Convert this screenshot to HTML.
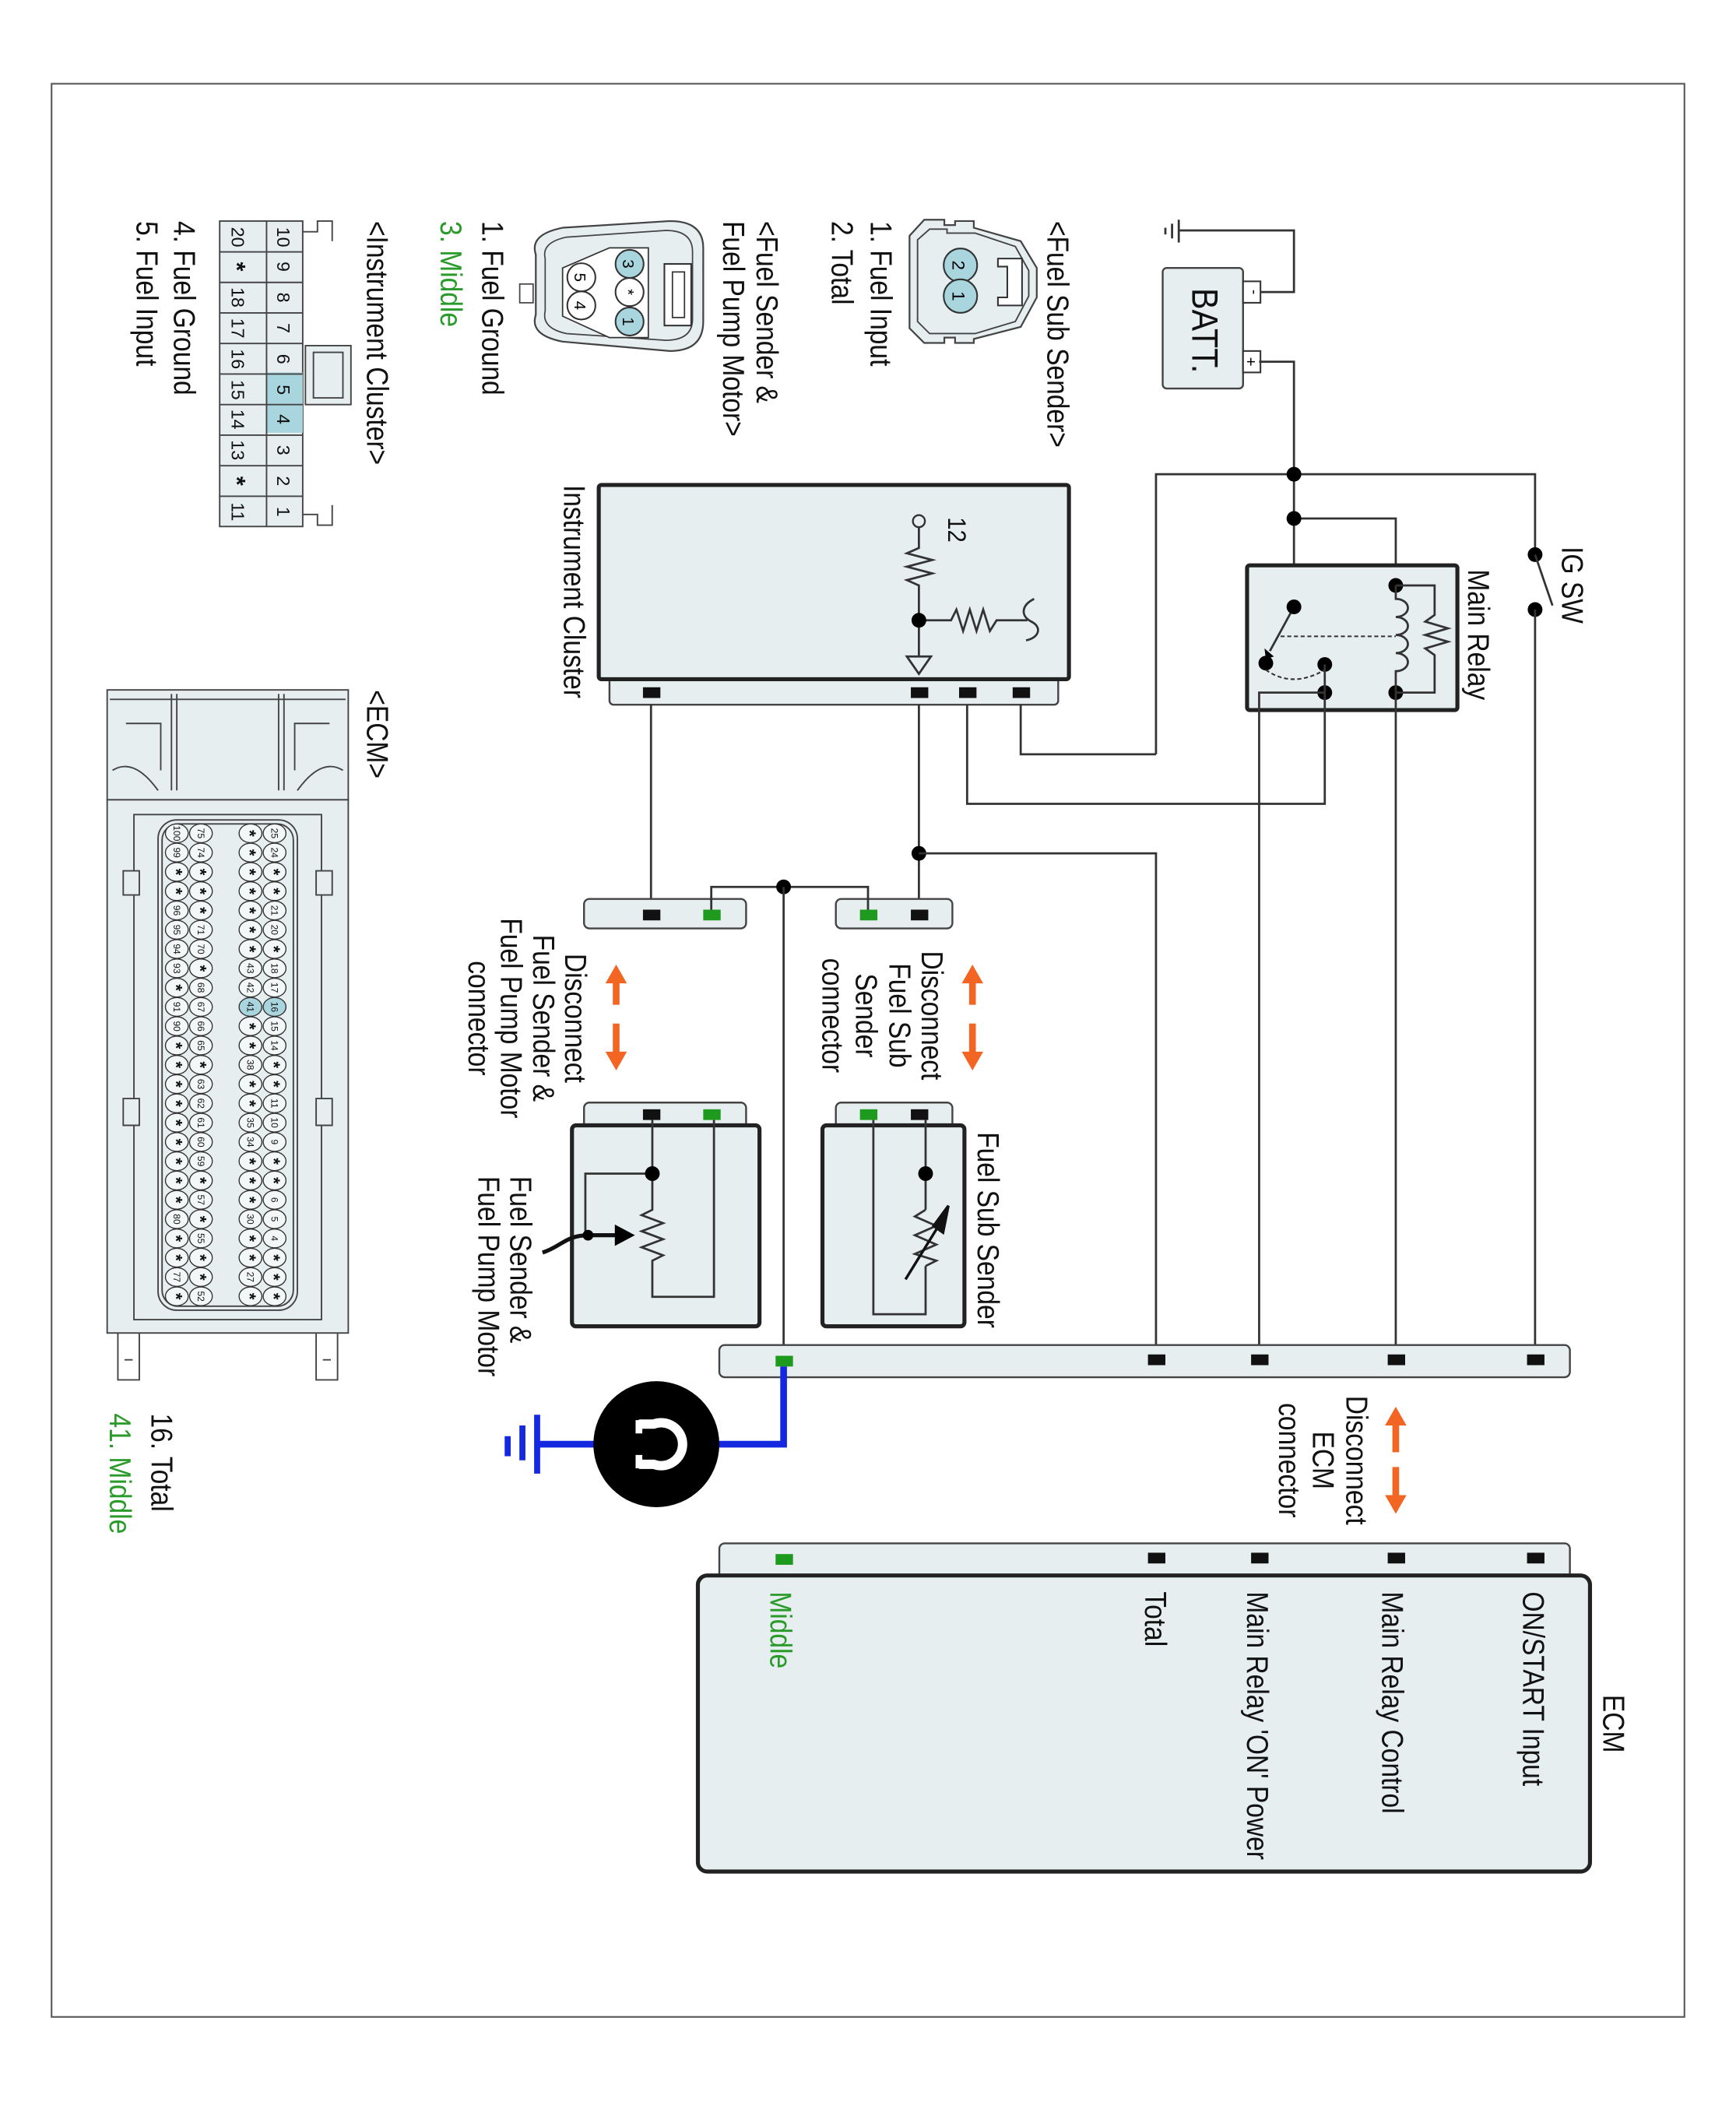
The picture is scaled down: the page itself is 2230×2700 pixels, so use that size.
<!DOCTYPE html>
<html><head><meta charset="utf-8"><style>
html,body{margin:0;padding:0;background:#fff}
svg{display:block}
text{font-family:"Liberation Sans",Arial,sans-serif}
</style></head><body>
<svg width="2230" height="2700" viewBox="0 0 1296 1569" preserveAspectRatio="none" xmlns="http://www.w3.org/2000/svg">
<defs>
<style>
.w{stroke:#333;stroke-width:1.6;fill:none}
.box{fill:#e6eef0;stroke:#222;stroke-width:3}
.bar{fill:#e6eef0;stroke:#444;stroke-width:1.4}
.t{font-size:19.5px;fill:#111}
.g{fill:#2a9a2a}
.pin{fill:#111}
.gp{fill:#1e9a1e}
.or{stroke:#f26522;stroke-width:5;fill:none}
</style>
</defs>
<rect x="38.5" y="62.5" width="1219" height="1443" fill="none" stroke="#555" stroke-width="1.2"/>

<!-- Battery & ground -->
<path class="w" d="M880 172 H966 V218 H940"/>
<path class="w" stroke-width="1.6" d="M880 164 V181 M875 167 V178 M870 170 V175"/>
<rect x="868" y="200" width="60" height="90" rx="3" class="bar" stroke="#333" stroke-width="1.5"/>
<rect x="928" y="210" width="13" height="16" fill="#fff" stroke="#333" stroke-width="1.2"/>
<rect x="928" y="262" width="13" height="16" fill="#fff" stroke="#333" stroke-width="1.2"/>
<text x="0" y="0" transform="translate(933,218) rotate(90)" font-size="11" text-anchor="middle">-</text>
<text x="0" y="0" transform="translate(930,270) rotate(90)" font-size="12" text-anchor="middle">+</text>
<text transform="translate(890,215) rotate(90) scale(1,1.15)" class="t" style="font-size:24px">BATT.</text>
<path class="w" d="M940 270 H966 V453"/>
<path class="w" d="M863 563 V354 H1146 V414"/>
<path class="w" d="M966 387 H1042 V437"/>
<circle cx="966" cy="354" r="5.5"/><circle cx="966" cy="387" r="5.5"/>
<!-- IG SW -->
<circle cx="1146" cy="414" r="5.5"/><circle cx="1146" cy="455" r="5.5"/>
<path class="w" d="M1146 414 L1159 452"/>
<path class="w" d="M1146 455 V1015"/>
<text class="t" transform="translate(1166,408) rotate(90) scale(1,1.15)">IG SW</text>

<!-- Main relay -->
<rect x="931" y="422" width="157" height="108" rx="2" class="box"/>
<path class="w" d="M966 453 L948 486"/>
<path d="M944 484 L951 490 L945 492 Z"/>
<circle cx="966" cy="453" r="5.5"/>
<circle cx="945" cy="495" r="5.5"/><circle cx="989" cy="496" r="5.5"/><circle cx="989" cy="517" r="5.5"/>
<circle cx="1042" cy="437" r="5.5"/><circle cx="1042" cy="517" r="5.5"/>
<path d="M956 475 H1042" stroke="#333" stroke-width="1.2" stroke-dasharray="3,2" fill="none"/>
<path d="M945 500 Q965 514 989 500" stroke="#333" stroke-width="1.2" stroke-dasharray="3,2" fill="none"/>
<path class="w" d="M1042 437 V447 a9 6.7 0 0 1 0 13.5 a9 6.7 0 0 1 0 13.5 a9 6.7 0 0 1 0 13.5 a9 6.7 0 0 1 0 13.5 V517"/>
<path class="w" d="M1042 437 H1071 V459 L1064 464 L1081 469 L1064 474 L1081 479 L1064 484 L1071 489 V517 H1042"/>
<path class="w" d="M989 496 V600 H722 V526"/>
<path class="w" d="M989 517 H940 V1015"/>
<path class="w" d="M1042 517 V1015"/>
<text class="t" transform="translate(1096,425) rotate(90) scale(1,1.15)">Main Relay</text>

<!-- Instrument cluster -->
<rect x="455" y="505" width="335" height="21" rx="3" class="bar"/>
<rect x="447" y="362" width="351" height="145" rx="2" class="box"/>
<rect x="480" y="513" width="13" height="8" class="pin"/>
<rect x="680" y="513" width="13" height="8" class="pin"/>
<rect x="716" y="513" width="13" height="8" class="pin"/>
<rect x="756" y="513" width="13" height="8" class="pin"/>
<path class="w" d="M762 526 V563 H863"/>
<circle cx="686" cy="389" r="4.5" fill="#e6eef0" stroke="#333" stroke-width="1.4"/>
<path class="w" d="M686 394 V409 L677 413 L696 418 L677 423 L696 428 L677 433 L686 437 V490"/>
<path class="w" d="M686 463 H710 L714 455 L719 471 L724 455 L729 471 L734 455 L739 471 L744 463 H767"/>
<path class="w" d="M772 447 C762 452 762 460 770 464 C778 468 776 476 766 478"/>
<path class="w" d="M677 490 H695 L686 503 Z"/>
<circle cx="686" cy="463" r="5.5"/>
<text class="t" transform="translate(708,386) rotate(90) scale(1,1.1)" style="font-size:17px">12</text>
<text class="t" transform="translate(421,362) rotate(90) scale(1,1.15)">Instrument Cluster</text>
<path class="w" d="M486 526 V683"/>
<path class="w" d="M686 526 V683"/>
<circle cx="686" cy="637" r="5.5"/>
<path class="w" d="M686 637 H863 V1015"/>

<!-- upper harness connectors -->
<rect x="624" y="671" width="87" height="22" rx="4" class="bar"/>
<rect x="436" y="671" width="121" height="22" rx="4" class="bar"/>
<rect x="642" y="679" width="13" height="8" class="gp"/>
<rect x="680" y="679" width="13" height="8" class="pin"/>
<rect x="480" y="679" width="13" height="8" class="pin"/>
<rect x="525" y="679" width="13" height="8" class="gp"/>
<path class="w" d="M531 679 V662 H648 V679"/>
<circle cx="585" cy="662" r="5.5"/>
<path class="w" d="M585 662 V1015"/>

<!-- orange arrows -->
<g fill="#f26522">
<path class="or" d="M726 732 V750 M726 764 V787"/>
<path d="M718 734 L726 720 L734 734 Z"/><path d="M718 785 L726 799 L734 785 Z"/>
<path class="or" d="M460 732 V750 M460 764 V787"/>
<path d="M452 734 L460 720 L468 734 Z"/><path d="M452 785 L460 799 L468 785 Z"/>
<path class="or" d="M1042 1061 V1084 M1042 1095 V1118"/>
<path d="M1034 1064 L1042 1050 L1050 1064 Z"/><path d="M1034 1116 L1042 1130 L1050 1116 Z"/>
</g>

<!-- disconnect labels -->
<g class="t" text-anchor="middle">
<text transform="translate(688,758) rotate(90) scale(1,1.15)">Disconnect</text>
<text transform="translate(664,758) rotate(90) scale(1,1.15)">Fuel Sub</text>
<text transform="translate(639,758) rotate(90) scale(1,1.15)">Sender</text>
<text transform="translate(614,758) rotate(90) scale(1,1.15)">connector</text>
<text transform="translate(422,760) rotate(90) scale(1,1.15)">Disconnect</text>
<text transform="translate(398,760) rotate(90) scale(1,1.15)">Fuel Sender &amp;</text>
<text transform="translate(374,760) rotate(90) scale(1,1.15)">Fuel Pump Motor</text>
<text transform="translate(350,760) rotate(90) scale(1,1.15)">connector</text>
<text transform="translate(1005,1090) rotate(90) scale(1,1.15)">Disconnect</text>
<text transform="translate(980,1090) rotate(90) scale(1,1.15)">ECM</text>
<text transform="translate(955,1090) rotate(90) scale(1,1.15)">connector</text>
</g>

<!-- lower sender components -->
<rect x="624" y="823" width="87" height="22" rx="4" class="bar"/>
<rect x="614" y="840" width="106" height="150" rx="3" class="box"/>
<rect x="642" y="828" width="13" height="8" class="gp"/>
<rect x="680" y="828" width="13" height="8" class="pin"/>
<path class="w" d="M652 836 V981 H691 V945 M691 903 V836"/>
<path class="w" d="M691 903 L683 908 L699 915 L683 922 L699 929 L683 936 L699 941 L691 945"/>
<path d="M676 955 L705 908" stroke="#111" stroke-width="2" fill="none"/>
<path d="M708 900 L697 915 L704 920 Z" fill="#111" stroke="#111" stroke-width="2"/>
<circle cx="691" cy="876" r="5.5"/>
<text class="t" transform="translate(730,845) rotate(90) scale(1,1.15)">Fuel Sub Sender</text>

<rect x="436" y="823" width="121" height="22" rx="4" class="bar"/>
<rect x="427" y="840" width="140" height="150" rx="3" class="box"/>
<rect x="480" y="828" width="13" height="8" class="pin"/>
<rect x="525" y="828" width="13" height="8" class="gp"/>
<path class="w" d="M487 836 V903 L479 907 L495 913 L479 919 L495 925 L479 931 L495 937 L487 941 V968 H533 V836"/>
<path class="w" d="M487 876 H437 V922"/>
<circle cx="487" cy="876" r="5.5"/>
<path d="M405 935 C420 930 422 922 440 922 H462" stroke="#111" stroke-width="3" fill="none"/>
<path d="M459 914 L474 922 L459 930 Z"/>
<circle cx="439" cy="922" r="4"/>
<text class="t" transform="translate(381,878) rotate(90) scale(1,1.15)">Fuel Sender &amp;</text>
<text class="t" transform="translate(357,878) rotate(90) scale(1,1.15)">Fuel Pump Motor</text>

<!-- ECM harness bar -->
<rect x="537" y="1004" width="635" height="24" rx="4" class="bar"/>
<rect x="579" y="1012" width="13" height="8" class="gp"/>
<rect x="857" y="1011" width="13" height="8" class="pin"/>
<rect x="934" y="1011" width="13" height="8" class="pin"/>
<rect x="1036" y="1011" width="13" height="8" class="pin"/>
<rect x="1140" y="1011" width="13" height="8" class="pin"/>

<!-- ground -->
<path d="M585 1020 V1078 H400" stroke="#1428e0" stroke-width="5" fill="none"/>
<path d="M401 1056 V1100 M390 1064 V1090 M379 1072 V1087" stroke="#1428e0" stroke-width="4.5" fill="none"/>
<circle cx="490" cy="1078" r="47"/>
<path d="M477 1063 H488 A16 16 0 1 1 488 1093 H477" stroke="#fff" stroke-width="7" fill="none"/>
<path d="M477 1060 V1070 M477 1086 V1096" stroke="#fff" stroke-width="5"/>

<!-- ECM box -->
<rect x="537" y="1152" width="635" height="26" rx="4" class="bar"/>
<rect x="521" y="1176" width="666" height="221" rx="7" class="box"/>
<rect x="579" y="1160" width="13" height="8" class="gp"/>
<rect x="857" y="1159" width="13" height="8" class="pin"/>
<rect x="934" y="1159" width="13" height="8" class="pin"/>
<rect x="1036" y="1159" width="13" height="8" class="pin"/>
<rect x="1140" y="1159" width="13" height="8" class="pin"/>
<text class="t" transform="translate(1197,1265) rotate(90) scale(1,1.15)">ECM</text>
<text class="t" transform="translate(1137,1188) rotate(90) scale(1,1.15)">ON/START Input</text>
<text class="t" transform="translate(1032,1188) rotate(90) scale(1,1.15)">Main Relay Control</text>
<text class="t" transform="translate(931,1188) rotate(90) scale(1,1.15)">Main Relay 'ON' Power</text>
<text class="t" transform="translate(855,1188) rotate(90) scale(1,1.15)">Total</text>
<text class="t" transform="translate(575,1188) rotate(90) scale(1,1.15)" style="fill:#2a9a2a">Middle</text>

<!-- left side connector views -->
<g class="t">
<text transform="translate(782,165) rotate(90) scale(1,1.15)">&lt;Fuel Sub Sender&gt;</text>
<text transform="translate(650,165) rotate(90) scale(1,1.15)">1. Fuel Input</text>
<text transform="translate(621,165) rotate(90) scale(1,1.15)">2. Total</text>
<text transform="translate(565,165) rotate(90) scale(1,1.15)">&lt;Fuel Sender &amp;</text>
<text transform="translate(540,165) rotate(90) scale(1,1.15)">Fuel Pump Motor&gt;</text>
<text transform="translate(360,165) rotate(90) scale(1,1.15)">1. Fuel Ground</text>
<text transform="translate(329,165) rotate(90) scale(1,1.15)" style="fill:#2a9a2a">3. Middle</text>
<text transform="translate(274,165) rotate(90) scale(1,1.15)">&lt;Instrument Cluster&gt;</text>
<text transform="translate(130,165) rotate(90) scale(1,1.15)">4. Fuel Ground</text>
<text transform="translate(102,165) rotate(90) scale(1,1.15)">5. Fuel Input</text>
<text transform="translate(274,515) rotate(90) scale(1,1.15)">&lt;ECM&gt;</text>
<text transform="translate(113,1055) rotate(90) scale(1,1.15)">16. Total</text>
<text transform="translate(82,1055) rotate(90) scale(1,1.15)" style="fill:#2a9a2a">41. Middle</text>
</g>

<!-- fuel sub sender connector -->
<path d="M690 164 H705 V168 H713 V165 H727 V170 L762 180 L774 200 V222 L762 244 L727 253 V256 H713 V252 H705 V256 H690 L679 245 V176 Z" fill="#e6eef0" stroke="#444" stroke-width="1.3"/>
<path d="M694 171 H707 V174 H728 L758 184 L768 202 V221 L758 240 L728 249 H694 L685 240 V179 Z" fill="none" stroke="#444" stroke-width="1.1"/>
<path d="M745 193 H763 V228 H745 V222 H752 V199 H745 Z" fill="#fff" stroke="#333" stroke-width="1.2"/>
<circle cx="717" cy="198" r="12.5" fill="#a9d6de" stroke="#333" stroke-width="1.2"/>
<circle cx="717" cy="221" r="12.5" fill="#a9d6de" stroke="#333" stroke-width="1.2"/>
<text transform="translate(711,198) rotate(90)" font-size="13" text-anchor="middle">2</text>
<text transform="translate(711,221) rotate(90)" font-size="13" text-anchor="middle">1</text>

<!-- fuel sender connector -->
<path d="M400 190 Q395 175 420 170 L500 165 Q525 165 525 185 V240 Q525 262 500 262 L420 255 Q395 250 400 235 Z" fill="#e6eef0" stroke="#444" stroke-width="1.3"/>
<path d="M407 193 Q404 181 423 177 L497 172 Q517 172 517 188 V238 Q517 254 497 254 L423 249 Q404 245 407 232 Z" fill="none" stroke="#444" stroke-width="1"/>
<path d="M455 185 L484 185 L484 252 L455 252 L420 236 L420 200 Z" fill="#fff" stroke="#333" stroke-width="1"/>
<rect x="496" y="197" width="20" height="46" fill="#fff" stroke="#333" stroke-width="1.2"/>
<rect x="502" y="203" width="9" height="34" fill="none" stroke="#333" stroke-width="1"/>
<rect x="388" y="212" width="10" height="14" fill="#fff" stroke="#444" stroke-width="1"/>
<circle cx="470" cy="197" r="10.5" fill="#a9d6de" stroke="#333" stroke-width="1.2"/>
<circle cx="470" cy="218" r="10.5" fill="#fff" stroke="#333" stroke-width="1.2"/>
<circle cx="470" cy="240" r="10.5" fill="#a9d6de" stroke="#333" stroke-width="1.2"/>
<circle cx="434" cy="207" r="10.5" fill="#fff" stroke="#333" stroke-width="1.2"/>
<circle cx="434" cy="228" r="10.5" fill="#fff" stroke="#333" stroke-width="1.2"/>
<g font-size="12" text-anchor="middle">
<text transform="translate(465,197) rotate(90)">3</text>
<text transform="translate(465,218) rotate(90)">*</text>
<text transform="translate(465,240) rotate(90)">1</text>
<text transform="translate(429,207) rotate(90)">5</text>
<text transform="translate(429,228) rotate(90)">4</text>
</g>

<!-- instrument cluster connector grid -->
<g stroke="#444" stroke-width="1.1">
<path d="M226 173 H237 V165 H248 V180 M226 384 H237 V392 H248 V377" fill="none"/>
<rect x="164" y="165" width="62" height="228" fill="#e6eef0"/>
<rect x="199" y="278" width="27" height="45" fill="#a9d6de" stroke="none"/>
<path d="M199 165 V393 M164 188 H226 M164 210.8 H226 M164 233.6 H226 M164 256.4 H226 M164 279.2 H226 M164 302 H226 M164 324.8 H226 M164 347.6 H226 M164 370.4 H226" fill="none"/>
<rect x="228" y="258" width="34" height="44" fill="#e6eef0"/>
<rect x="234" y="263" width="22" height="34" fill="none"/>
</g>
<g font-size="13.5" text-anchor="middle" fill="#111">
<text transform="translate(207,177) rotate(90)">10</text>
<text transform="translate(207,199) rotate(90)">9</text>
<text transform="translate(207,222) rotate(90)">8</text>
<text transform="translate(207,245) rotate(90)">7</text>
<text transform="translate(207,268) rotate(90)">6</text>
<text transform="translate(207,291) rotate(90)">5</text>
<text transform="translate(207,313) rotate(90)">4</text>
<text transform="translate(207,336) rotate(90)">3</text>
<text transform="translate(207,359) rotate(90)">2</text>
<text transform="translate(207,382) rotate(90)">1</text>
<text transform="translate(173,177) rotate(90)">20</text>
<text transform="translate(171,199) rotate(90)" font-size="18" font-weight="bold">*</text>
<text transform="translate(173,222) rotate(90)">18</text>
<text transform="translate(173,245) rotate(90)">17</text>
<text transform="translate(173,268) rotate(90)">16</text>
<text transform="translate(173,291) rotate(90)">15</text>
<text transform="translate(173,313) rotate(90)">14</text>
<text transform="translate(173,336) rotate(90)">13</text>
<text transform="translate(171,359) rotate(90)" font-size="18" font-weight="bold">*</text>
<text transform="translate(173,382) rotate(90)">11</text>
</g>

<!-- ECM connector -->
<g stroke="#444" stroke-width="1.1" fill="#e6eef0">
<path d="M80 515 H260 V597 H80 Z"/>
<path d="M82 522 H258 M94 540 H120 V575 M246 540 H220 V575 M128 518 V590 M132 518 V590 M208 518 V590 M212 518 V590 M84 575 Q100 565 118 590 M256 575 Q240 565 222 590" fill="none"/>
<rect x="80" y="597" width="180" height="398"/>
<path d="M100 608 H240 V985 H100 Z" fill="none"/>
<rect x="118" y="612" width="104" height="366" rx="14" fill="#e6eef0"/>
<rect x="121" y="615" width="98" height="360" rx="12" fill="none"/>
<path d="M92 650 H104 V668 H92 Z M236 650 H248 V668 H236 Z M92 820 H104 V840 H92 Z M236 820 H248 V840 H236 Z" />
<path d="M88 995 V1030 H104 V995 M236 995 V1030 H252 V995 M93 1015 H99 M241 1015 H247" fill="none"/>
</g>
<g id="pins" font-size="7" text-anchor="middle" stroke="#333" stroke-width="0.8">
</g>
<script>
(function(){
var g=document.getElementById('pins');
var cols=[
 [205,['25','24','*','*','21','20','*','18','17','16','15','14','*','*','11','10','9','*','*','6','5','4','*','*','*']],
 [187,['*','*','*','*','*','*','*','43','42','41','*','*','38','*','*','35','34','*','*','*','30','*','*','27','*']],
 [150,['75','74','*','*','*','71','70','*','68','67','66','65','*','63','62','61','60','59','*','57','*','55','*','*','52']],
 [132,['100','99','*','*','96','95','94','93','*','91','90','*','*','*','*','*','*','*','*','*','80','*','*','77','*']]
];
var ns='http://www.w3.org/2000/svg';
cols.forEach(function(c){
 c[1].forEach(function(l,i){
  var y=622+i*14.4, x=c[0];
  var ci=document.createElementNS(ns,'ellipse');
  ci.setAttribute('cx',x);ci.setAttribute('cy',y);ci.setAttribute('rx',8.5);ci.setAttribute('ry',7);
  var hl=(x==205&&l=='16')||(x==187&&l=='41');
  ci.setAttribute('fill',hl?'#a9d6de':'#f4f7f8');
  g.appendChild(ci);
  var t=document.createElementNS(ns,'text');
  t.setAttribute('transform','translate('+(x-2.5)+','+y+') rotate(90)');
  t.setAttribute('stroke','none');t.setAttribute('fill','#111');
  if(l=='*'){t.setAttribute('font-size','13');t.setAttribute('font-weight','bold');t.setAttribute('transform','translate('+(x-5)+','+y+') rotate(90)');}
  t.textContent=l;
  g.appendChild(t);
 });
});
})();
</script>
</svg>
</body></html>
